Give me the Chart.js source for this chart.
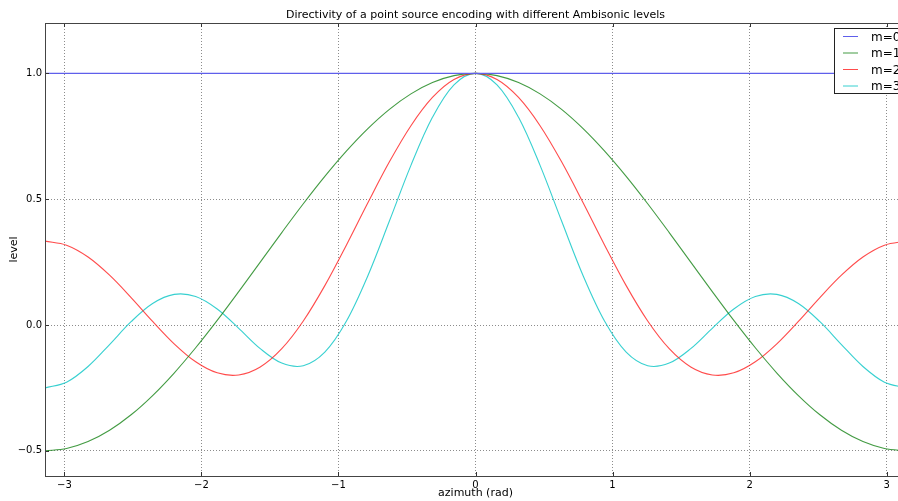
<!DOCTYPE html>
<html>
<head>
<meta charset="utf-8">
<script src="https://cdn.jsdelivr.net/npm/chart.js@4/dist/chart.umd.min.js"></script>
<style>
  html, body { margin: 0; padding: 0; background: #fff; overflow: hidden; }
  #wrap { width: 910px; height: 501px; }
</style>
</head>
<body>
<div id="wrap"><canvas id="dirchart" width="910" height="501"></canvas></div>
<script>
// azimuth samples (rad)
let azimuth = [-3.1416, -2.9845, -2.8274, -2.6704, -2.5133, -2.3562, -2.1991, -2.0420, -1.8850, -1.7279,
    -1.5708, -1.4137, -1.2566, -1.0996, -0.9425, -0.7854, -0.6283, -0.4712, -0.3142, -0.1571, 0,
    0.1571, 0.3142, 0.4712, 0.6283, 0.7854, 0.9425, 1.0996, 1.2566, 1.4137, 1.5708,
    1.7279, 1.8850, 2.0420, 2.1991, 2.3562, 2.5133, 2.6704, 2.8274, 2.9845, 3.1416];

let m0 = [1, 1, 1, 1, 1, 1, 1, 1, 1, 1, 1, 1, 1, 1, 1, 1, 1, 1, 1, 1, 1,
    1, 1, 1, 1, 1, 1, 1, 1, 1, 1, 1, 1, 1, 1, 1, 1, 1, 1, 1, 1];
let m1 = [-0.5, -0.4908, -0.4633, -0.4183, -0.3568, -0.2803, -0.1908, -0.0905, 0.0182, 0.1327,
    0.25, 0.3673, 0.4818, 0.5905, 0.6908, 0.7803, 0.8568, 0.9183, 0.9633, 0.9908, 1,
    0.9908, 0.9633, 0.9183, 0.8568, 0.7803, 0.6908, 0.5905, 0.4818, 0.3673, 0.25,
    0.1327, 0.0182, -0.0905, -0.1908, -0.2803, -0.3568, -0.4183, -0.4633, -0.4908, -0.5];
let m2 = [0.3333, 0.3171, 0.2701, 0.1979, 0.1091, 0.0143, -0.0747, -0.1462, -0.1901, -0.1984,
    -0.1667, -0.0941, 0.0159, 0.1564, 0.3172, 0.4857, 0.6484, 0.7919, 0.9041, 0.9755, 1,
    0.9755, 0.9041, 0.7919, 0.6484, 0.4857, 0.3172, 0.1564, 0.0159, -0.0941, -0.1667,
    -0.1984, -0.1901, -0.1462, -0.0747, 0.0143, 0.1091, 0.1979, 0.2701, 0.3171, 0.3333];
let m3 = [-0.25, -0.2273, -0.1648, -0.0776, 0.0131, 0.0854, 0.1216, 0.1133, 0.0636, -0.0131,
    -0.0938, -0.1514, -0.1616, -0.1076, 0.0148, 0.1959, 0.4130, 0.6344, 0.8253, 0.9544, 1,
    0.9544, 0.8253, 0.6344, 0.4130, 0.1959, 0.0148, -0.1076, -0.1616, -0.1514, -0.0938,
    -0.0131, 0.0636, 0.1133, 0.1216, 0.0854, 0.0131, -0.0776, -0.1648, -0.2273, -0.25];

let seriesNames = ['m=0', 'm=1', 'm=2', 'm=3'];
let seriesColors = ['rgb(95, 95, 235)', 'rgba(20, 130, 20, 0.8)', 'rgba(255, 30, 30, 0.8)', 'rgba(20, 200, 200, 0.85)'];
let xTicks = [-3, -2, -1, 0, 1, 2, 3];
let yTicks = [-0.5, 0, 0.5, 1.0];
let chartTitle = 'Directivity of a point source encoding with different Ambisonic levels';

const FONT = "'DejaVu Sans', sans-serif";

function pts(ys) {
    return azimuth.map((x, i) => ({ x: x, y: ys[i] }));
}

function minusFmt(s) {
    return String(s).replace('-', '\u2212');
}

// title over the axes, frame, inward ticks and boxed legend like the original
const decor = {
    id: 'decor',
    afterDraw(chart) {
        const c = chart.ctx;
        const a = chart.chartArea;
        const xs = chart.scales.x, ys = chart.scales.y;
        c.save();
        c.fillStyle = '#000';
        c.font = '11px ' + FONT;
        c.textAlign = 'center';
        c.textBaseline = 'middle';
        c.fillText(chartTitle, (a.left + a.right) / 2, 15);

        c.strokeStyle = '#333';
        c.lineWidth = 1;
        // inward ticks
        c.beginPath();
        xTicks.forEach(t => {
            let px = Math.round(xs.getPixelForValue(t)) + 0.5;
            c.moveTo(px, a.top); c.lineTo(px, a.top + 4);
            c.moveTo(px, a.bottom); c.lineTo(px, a.bottom - 4);
        });
        yTicks.forEach(t => {
            let py = Math.round(ys.getPixelForValue(t)) + 0.5;
            c.moveTo(a.left, py); c.lineTo(a.left + 4, py);
            c.moveTo(a.right, py); c.lineTo(a.right - 4, py);
        });
        c.stroke();
        c.strokeStyle = '#444';
        c.strokeRect(Math.round(a.left) + 0.5, Math.round(a.top) + 0.5, Math.round(a.right - a.left), Math.round(a.bottom - a.top));

        // legend
        let lx = 834.5, ly = 28.5, lw = 80, lh = 65;
        c.fillStyle = '#fff';
        c.fillRect(lx, ly, lw, lh);
        c.strokeStyle = '#222';
        c.strokeRect(lx, ly, lw, lh);
        c.font = '12px ' + FONT;
        c.textAlign = 'left';
        chart.data.datasets.forEach((ds, i) => {
            let yy = 36.5 + i * 16.5;
            c.strokeStyle = ds.borderColor;
            c.lineWidth = 1;
            c.beginPath();
            c.moveTo(843, yy); c.lineTo(858, yy);
            c.stroke();
            c.fillStyle = '#000';
            c.fillText(ds.label, 871, yy + 1);
        });
        c.restore();
    }
};

var ctx = document.getElementById('dirchart');
var dirchart = new Chart(ctx, {
    type: 'line',
    data: {
        datasets: seriesNames.map((n, i) => ({
            label: n,
            data: pts([m0, m1, m2, m3][i]),
            borderColor: seriesColors[i],
            borderWidth: i == 0 ? 1.3 : 1.1,
            pointRadius: 0,
            fill: false,
            tension: 0.35
        }))
    },
    options: {
        responsive: false,
        animation: false,
        layout: { padding: { left: 0, right: 4, top: 23, bottom: 0 } },
        scales: {
            x: {
                type: 'linear',
                min: -3.1416,
                max: 3.1416,
                afterBuildTicks: (s) => { s.ticks = xTicks.map(v => ({ value: v })); },
                afterFit: (s) => { s.height = 25; },
                ticks: {
                    color: '#000',
                    font: { family: FONT, size: 10 },
                    padding: 3,
                    maxRotation: 0,
                    callback: (v) => minusFmt(v)
                },
                grid: {
                    color: 'rgba(0,0,0,0.45)',
                    lineWidth: 1,
                    drawTicks: false
                },
                // dotted grid (matplotlib ':' style)
                border: { display: false, dash: [1, 2] },
                title: {
                    display: true,
                    text: 'azimuth (rad)',
                    color: '#000',
                    font: { family: FONT, size: 11 },
                    padding: { top: 0, bottom: 1 }
                }
            },
            y: {
                min: -0.6,
                max: 1.2,
                afterBuildTicks: (s) => { s.ticks = yTicks.map(v => ({ value: v })); },
                afterFit: (s) => { s.width = 45; },
                ticks: {
                    color: '#000',
                    font: { family: FONT, size: 10 },
                    padding: 3,
                    callback: (v) => minusFmt(v.toFixed(1))
                },
                grid: {
                    color: 'rgba(0,0,0,0.45)',
                    lineWidth: 1,
                    drawTicks: false
                },
                border: { display: false, dash: [1, 2] },
                title: {
                    display: true,
                    text: 'level',
                    color: '#000',
                    font: { family: FONT, size: 11 },
                    padding: { top: 8, bottom: 0 }
                }
            }
        },
        plugins: {
            legend: { display: false },
            tooltip: { enabled: false },
            title: { display: false }
        }
    },
    plugins: [decor]
});
</script>
</body>
</html>
